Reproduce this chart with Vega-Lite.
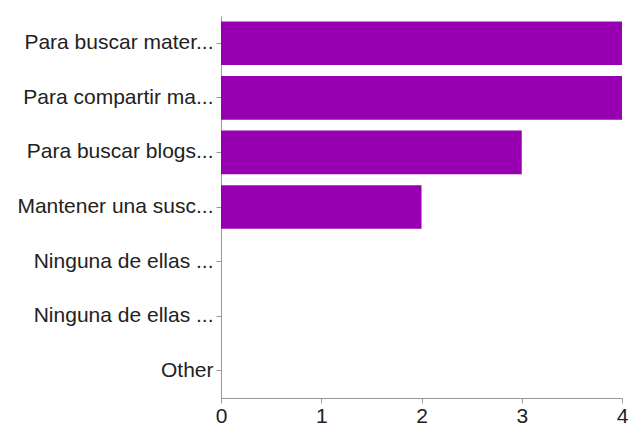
{
  "$schema": "https://vega.github.io/schema/vega-lite/v6.json",
  "autosize": "none",
  "width": 401,
  "height": 382,
  "padding": {"left": 221, "top": 16, "right": 8, "bottom": 27},
  "background": "white",
  "config": {"view": {"stroke": null}, "font": "Liberation Sans"},
  "data": {"values": [
    {"key": "1 Para buscar mater...", "count": 4},
    {"key": "2 Para compartir ma...", "count": 4},
    {"key": "3 Para buscar blogs...", "count": 3},
    {"key": "4 Mantener una susc...", "count": 2},
    {"key": "5 Ninguna de ellas ...", "count": 0},
    {"key": "6 Ninguna de ellas ...", "count": 0},
    {"key": "7 Other", "count": 0}
  ]},
  "mark": {"type": "bar", "color": "#9700b0"},
  "encoding": {
    "y": {
      "field": "key", "type": "nominal", "sort": null,
      "scale": {"paddingInner": 0.2, "paddingOuter": 0.1},
      "axis": {
        "title": null,
        "labelExpr": "substring(datum.value, 2)",
        "labelFontSize": 21, "labelColor": "#222222", "labelPadding": 3,
        "labelLimit": 300,
        "tickSize": 5, "tickColor": "#999999", "domainColor": "#999999"
      }
    },
    "x": {
      "field": "count", "type": "quantitative",
      "scale": {"domain": [0, 4], "nice": false},
      "axis": {
        "title": null, "values": [0, 1, 2, 3, 4], "grid": false,
        "labelFontSize": 21, "labelColor": "#222222", "labelPadding": 2,
        "tickSize": 5, "tickColor": "#999999", "domainColor": "#999999",
        "labelFlush": false
      }
    }
  }
}
